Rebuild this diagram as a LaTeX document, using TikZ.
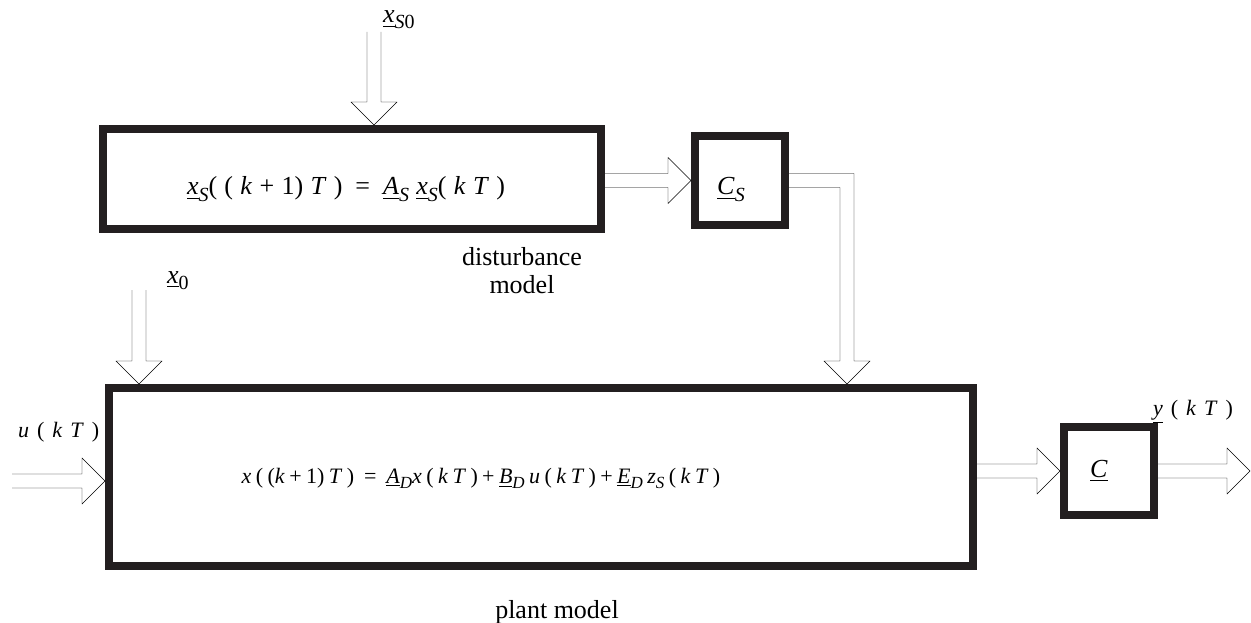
\documentclass[tikz,border=0pt]{standalone}
\usepackage{amsmath}
\usepackage{fontspec}
\setmainfont{Liberation Serif}
\usetikzlibrary{calc}
\newcommand\iv[1]{\textit{#1}}
\newcommand\uv[1]{\underline{\textit{#1}}}
\newcommand\sbA[1]{\raisebox{-6pt}{\fontsize{20}{20}\selectfont #1}}
\newcommand\sbB[1]{\raisebox{-5pt}{\fontsize{17}{17}\selectfont #1}}
\newcommand\spA{\hspace{0.28em}}
\newcommand\spB{\hspace{0.2em}}
\newcommand\spC{\hspace{0.36em}}
\definecolor{boxc}{HTML}{231F20}
\tikzset{
  blockbox/.style={draw=boxc, line width=8pt, inner sep=0pt, fill=none},
  eqbig/.style={inner sep=0pt, font=\fontsize{26}{28}\selectfont},
  eqsmall/.style={inner sep=0pt, font=\fontsize{22}{24}\selectfont},
  captext/.style={inner sep=0pt, align=center, font=\fontsize{26}{28}\selectfont},
  fatline/.style={draw=black, line width=1pt, fill=white, line join=miter},
  harr/.style={fatline, to path={let \p1=(\tikztostart), \p2=(\tikztotarget) in
    (\x1,\y2+7pt) -- (\x2-23pt,\y2+7pt) -- (\x2-23pt,\y2+23pt) -- (\x2,\y2)
    -- (\x2-23pt,\y2-23pt) -- (\x2-23pt,\y2-7pt) -- (\x1,\y2-7pt)}},
  varr/.style={fatline, to path={let \p1=(\tikztostart), \p2=(\tikztotarget) in
    (\x2-7pt,\y1) -- (\x2-7pt,\y2+23pt) -- (\x2-23pt,\y2+23pt) -- (\x2,\y2)
    -- (\x2+23pt,\y2+23pt) -- (\x2+7pt,\y2+23pt) -- (\x2+7pt,\y1)}},
  larr/.style={fatline, to path={let \p1=(\tikztostart), \p2=(\tikztotarget) in
    (\x1,\y1+7pt) -- (\x2+7pt,\y1+7pt) -- (\x2+7pt,\y2+23pt) -- (\x2+23pt,\y2+23pt)
    -- (\x2,\y2) -- (\x2-23pt,\y2+23pt) -- (\x2-7pt,\y2+23pt) -- (\x2-7pt,\y1-7pt)
    -- (\x1,\y1-7pt)}},
}
\begin{document}
\begin{tikzpicture}[x=1pt,y=1pt]
\useasboundingbox (0,0) rectangle (1251,-623);
% blocks
\node[blockbox, minimum width=498pt, minimum height=100pt] (dist) at (352,-179) {};
\node[blockbox, minimum width=90pt, minimum height=89pt] (cs) at (740,-180.5) {};
\node[blockbox, minimum width=864pt, minimum height=178pt] (plant) at (541,-477) {};
\node[blockbox, minimum width=90pt, minimum height=88pt] (c) at (1109,-471) {};
% texts
\node[eqbig, anchor=base] (disteq) at (346,-195)
  {\uv{x}\sbA{\iv{S}}(\spA(\spA\iv{k}\spA+\spA1)\spA\iv{T}\spA)\hspace{0.5em}=\hspace{0.5em}\uv{A}\sbA{\iv{S}}\spA\uv{x}\sbA{\iv{S}}(\spA\iv{k}\spA\iv{T}\spA)};
\node[eqsmall, anchor=base] (planteq) at (481,-483)
  {\iv{x}\spB(\spB(\iv{k}\spB+\spB1)\spB\iv{T}\spB)\hspace{0.45em}=\hspace{0.45em}\uv{A}\sbB{\iv{D}}\iv{x}\spB(\spB\iv{k}\spB\iv{T}\spB)\spB+\spB\uv{B}\sbB{\iv{D}}\spB\iv{u}\spB(\spB\iv{k}\spB\iv{T}\spB)\spB+\spB\uv{E}\sbB{\iv{D}}\spB\iv{z}\sbB{\iv{S}}\spB(\spB\iv{k}\spB\iv{T}\spB)};
\node[eqbig, anchor=base west] (cslab) at (717,-195) {\uv{C}\sbA{\iv{S}}};
\node[eqbig, anchor=base west] (clab) at (1090,-477) {\uv{C}};
\node[eqsmall, anchor=base west] (ylab) at (1153,-415) {\uv{y}\spC(\spC\iv{k}\spC\iv{T}\spC)};
\node[eqsmall, anchor=base west] (ulab) at (18,-437) {\iv{u}\spC(\spC\iv{k}\spC\iv{T}\spC)};
\node[eqbig, anchor=base west] (xs0lab) at (383,-23) {\uv{x}\sbA{\iv{S}0}};
\node[eqbig, anchor=base west] (x0lab) at (167,-283) {\uv{x}\sbA{0}};
\node[captext, anchor=center] (distcap) at (522,-271) {disturbance\\model};
\node[captext, anchor=base] (plantcap) at (557,-618) {plant model};
% connector end points
\coordinate (xs0s) at (374,-32);
\coordinate (x0s) at (139,-290);
\coordinate (csx) at (847,0);
\coordinate (ins) at (12,-481);
\coordinate (oute) at (1250,-471);
% connectors
\draw (xs0s) to[varr] (xs0s |- dist.north);
\draw (x0s) to[varr] (x0s |- plant.north);
\draw (cs.west -| dist.east) to[harr] (cs.west);
\draw (cs.east) to[larr] (csx |- plant.north);
\draw (ins) to[harr] (ins -| plant.west);
\draw (c.west -| plant.east) to[harr] (c.west);
\draw (c.east) to[harr] (oute);
\end{tikzpicture}
\end{document}
